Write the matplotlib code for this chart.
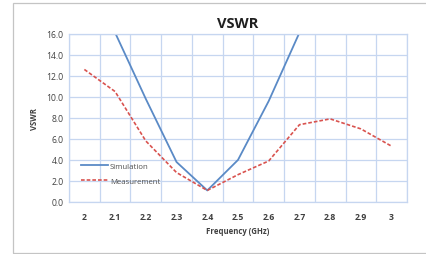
import matplotlib
matplotlib.use("Agg")
import matplotlib.pyplot as plt
from matplotlib.patches import Rectangle
import numpy as np

freqs = ["2", "2.1", "2.2", "2.3", "2.4", "2.5", "2.6", "2.7", "2.8", "2.9", "3"]
simulation = [24.0, 16.1, 9.8, 3.8, 1.1, 4.0, 9.6, 16.1, 24.0, np.nan, np.nan]
measurement = [12.6, 10.5, 5.8, 2.8, 1.1, 2.6, 3.9, 7.35, 7.9, 6.95, 5.3]
yticks = [0, 2, 4, 6, 8, 10, 12, 14, 16]

plt.rcParams['font.family'] = ['Open Sans', 'DejaVu Sans']

fig = plt.figure(figsize=(4.27, 2.55), dpi=100)
fig.patches.append(Rectangle((13/427, 1-254/255), 1.0, (254-4)/255, transform=fig.transFigure,
                             fill=False, edgecolor='#c4c4c4', linewidth=0.9))
ax = fig.add_axes([69/427, 1-203/255, (407-69)/427, (203-34.7)/255])

x = np.arange(len(freqs))
ax.plot(x, simulation, color='#5a8ac6', linewidth=1.3, label='Simulation')
ax.plot(x, measurement, color='#d9534f', linewidth=1.2, linestyle=(0, (2.2, 1.2)), label='Measurement')

ax.set_xlim(-0.5, len(freqs) - 0.5)
ax.set_ylim(0, 16)
ax.set_xticks(x)
ax.set_xticklabels(freqs, fontsize=6.2, fontweight='bold', color='#404040')
ax.set_xticks(np.arange(-0.5, len(freqs), 1.0), minor=True)
ax.set_yticks(yticks)
ax.set_yticklabels([f"{v:.1f}" for v in yticks], fontsize=6.2, color='#404040')
ax.tick_params(which='both', length=0)
ax.tick_params(axis='x', pad=7)
ax.tick_params(axis='y', pad=4)
ax.grid(True, which='minor', axis='x', color='#c6d6f0', linewidth=0.9)
ax.grid(True, which='major', axis='y', color='#c6d6f0', linewidth=0.9)
ax.set_axisbelow(True)
for s in ax.spines.values():
    s.set_color('#c6d6f0')
    s.set_linewidth(0.9)

ax.set_title('VSWR', fontsize=10.5, fontweight='bold', color='#202020', pad=5)
ax.set_xlabel('Frequency (GHz)', fontsize=5.6, fontweight='bold', color='#404040', labelpad=4)
ax.set_ylabel('VSWR', fontsize=5.6, fontweight='bold', color='#404040', labelpad=5)

leg = ax.legend(loc='lower left', bbox_to_anchor=(0.015, 0.06), frameon=False,
                fontsize=5.6, handlelength=3.4, handletextpad=0.3, labelspacing=0.95)
for t in leg.get_texts():
    t.set_color('#505050')

fig.savefig('out.png', dpi=100)
